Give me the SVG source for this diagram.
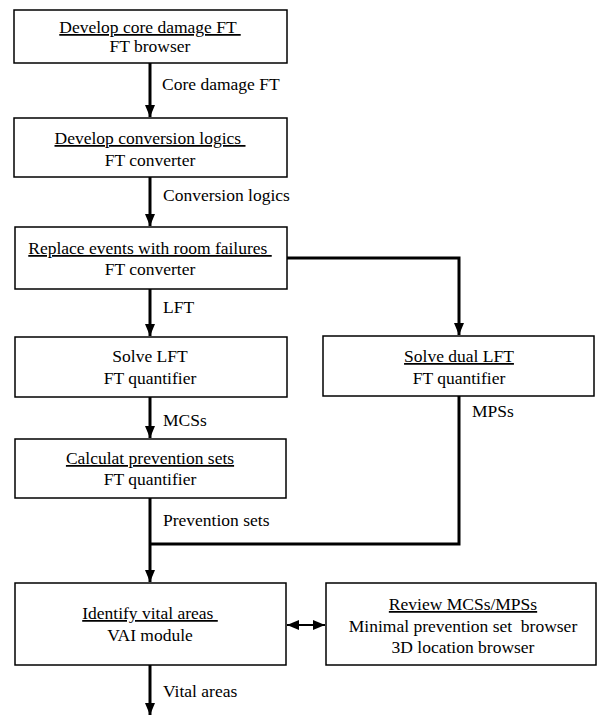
<svg xmlns="http://www.w3.org/2000/svg" width="597" height="715" viewBox="0 0 597 715">
<style>
  text { font-family: "Times New Roman", "Liberation Serif", Tinos, "Nimbus Roman", "DejaVu Serif", serif; font-size: 17.5px; fill: #000; white-space: pre; }
  .c { text-anchor: middle; }
  .u { text-decoration: underline; }
  .box { fill: #fff; stroke: #000; stroke-width: 1.5; }
  .con { fill: none; stroke: #000; stroke-width: 3; }
  .thin { fill: none; stroke: #000; stroke-width: 2; }
</style>
<defs>
  <marker id="ah" markerUnits="userSpaceOnUse" markerWidth="12" markerHeight="10" viewBox="0 0 12 10" refX="12" refY="5" orient="auto">
    <path d="M0,0 L12,5 L0,10 z" fill="#000"/>
  </marker>
  <marker id="ahs" markerUnits="userSpaceOnUse" markerWidth="12" markerHeight="10" viewBox="0 0 12 10" refX="0" refY="5" orient="auto">
    <path d="M12,0 L0,5 L12,10 z" fill="#000"/>
  </marker>
</defs>
<rect width="597" height="715" fill="#fff"/>

<g id="connectors">
  <path class="con" d="M150,63 V117" marker-end="url(#ah)"/>
  <path class="con" d="M150,177 V226" marker-end="url(#ah)"/>
  <path class="con" d="M150,289 V336" marker-end="url(#ah)"/>
  <path class="con" d="M287,258 H459 V335" marker-end="url(#ah)"/>
  <path class="con" d="M150,397 V438" marker-end="url(#ah)"/>
  <path class="con" d="M150,498 V582" marker-end="url(#ah)"/>
  <path class="con" d="M459,396 V544 H150"/>
  <path class="con" d="M150,665 V715" marker-end="url(#ah)"/>
  <path class="thin" d="M287,625 H325" marker-start="url(#ahs)" marker-end="url(#ah)"/>
  <text x="162" y="90">Core damage FT</text>
  <text x="163" y="201">Conversion logics</text>
  <text x="163" y="313">LFT</text>
  <text x="163" y="426">MCSs</text>
  <text x="472" y="417">MPSs</text>
  <text x="163" y="526">Prevention sets</text>
  <text x="163" y="697">Vital areas</text>
</g>

<g id="n1">
  <rect class="box" x="14" y="10" width="273" height="53"/>
  <text class="c u" x="150" y="33">Develop core damage FT </text>
  <text class="c" x="150" y="52">FT browser</text>
</g>
<g id="n2">
  <rect class="box" x="14" y="118" width="273" height="59"/>
  <text class="c u" x="150" y="144">Develop conversion logics </text>
  <text class="c" x="150" y="166">FT converter</text>
</g>
<g id="n3">
  <rect class="box" x="15" y="227" width="272" height="62"/>
  <text class="c u" x="150" y="254">Replace events with room failures </text>
  <text class="c" x="150" y="275">FT converter</text>
</g>
<g id="n4">
  <rect class="box" x="15" y="337" width="272" height="60"/>
  <text class="c" x="150" y="362">Solve LFT</text>
  <text class="c" x="150" y="384">FT quantifier</text>
</g>
<g id="n5">
  <rect class="box" x="323" y="336" width="271" height="60"/>
  <text class="c u" x="459" y="362">Solve dual LFT</text>
  <text class="c" x="459" y="384">FT quantifier</text>
</g>
<g id="n6">
  <rect class="box" x="15" y="439" width="271" height="59"/>
  <text class="c u" x="150" y="464">Calculat prevention sets</text>
  <text class="c" x="150" y="485">FT quantifier</text>
</g>
<g id="n7">
  <rect class="box" x="15" y="583" width="271" height="82"/>
  <text class="c u" x="150" y="619">Identify vital areas </text>
  <text class="c" x="150" y="641">VAI module</text>
</g>
<g id="n8">
  <rect class="box" x="326" y="583" width="270" height="82"/>
  <text class="c u" x="463" y="610">Review MCSs/MPSs</text>
  <text class="c" x="463" y="632">Minimal prevention set  browser</text>
  <text class="c" x="463" y="653">3D location browser</text>
</g>
</svg>
